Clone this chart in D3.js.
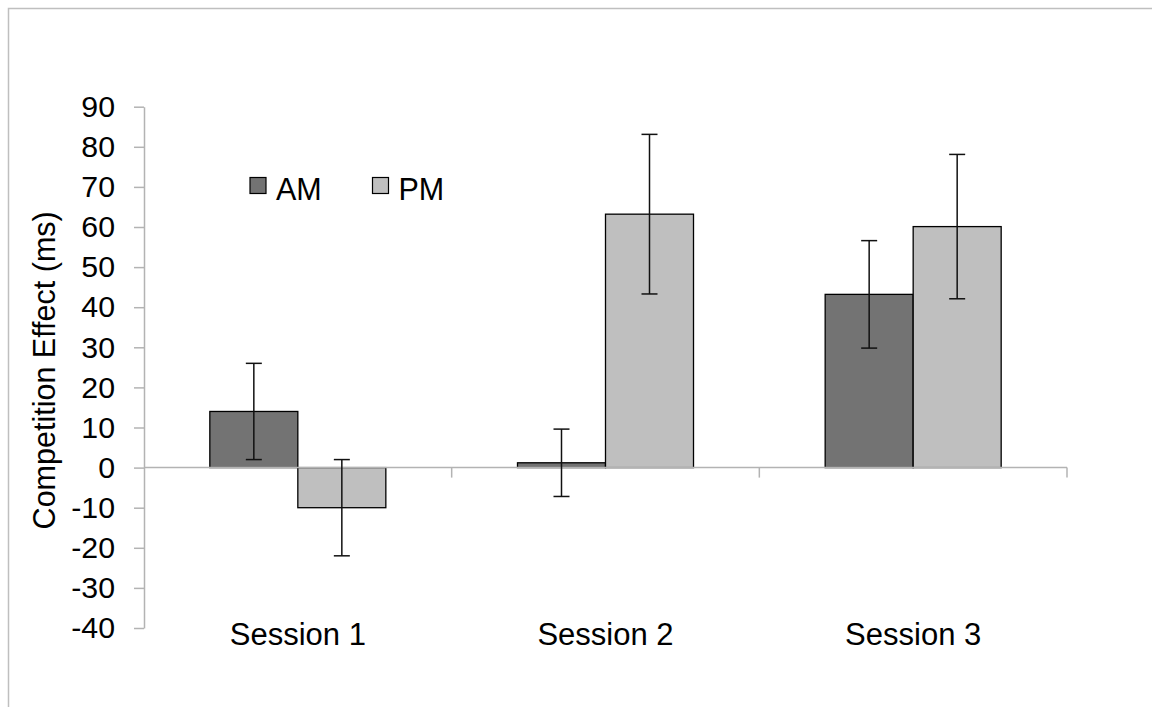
<!DOCTYPE html>
<html>
<head>
<meta charset="utf-8">
<script src="https://cdn.jsdelivr.net/npm/d3@7/dist/d3.min.js"></script>
<style>
  body { margin: 0; background: #fff; }
  text { font-family: "Liberation Sans", Arial, sans-serif; fill: #000; }
</style>
</head>
<body>
<div id="chart"></div>
<script>
// Data
var sessions = ["Session 1", "Session 2", "Session 3"];
var groups = ["AM", "PM"];
var am_values = [14, 1.2, 43.2];
var am_errors = [12, 8.4, 13.4];
var pm_values = [-10, 63.2, 60.1];
var pm_errors = [12, 19.9, 18];
var y_ticks = [-40, -30, -20, -10, 0, 10, 20, 30, 40, 50, 60, 70, 80, 90];

var width = 1152, height = 707;
var colours = { AM: "#737373", PM: "#bfbfbf" };

var svg = d3.select("#chart").append("svg")
    .attr("width", width)
    .attr("height", height);

// chart area border
svg.append("rect")
    .attr("x", 8.5).attr("y", 8.5)
    .attr("width", width + 20).attr("height", height + 20)
    .attr("fill", "none")
    .attr("stroke", "#bfbfbf")
    .attr("stroke-width", 1.5);

var plot_left = 144, plot_right = 1067, plot_top = 106.7, plot_bottom = 628;

var y = d3.scaleLinear().domain([-40, 90]).range([plot_bottom, plot_top]);
var x0 = d3.scaleBand().domain(sessions).range([plot_left, plot_right]).padding(0);
var x1 = d3.scaleBand().domain(groups).range([0, x0.bandwidth()])
    .paddingInner(0).paddingOuter(0.748);

// rows: one per session/group pair
var rows = [];
sessions.forEach(function(s, i) {
    rows.push({ session: s, group: "AM", value: am_values[i], err: am_errors[i] });
    rows.push({ session: s, group: "PM", value: pm_values[i], err: pm_errors[i] });
});

// y axis (plain hyphen for negatives, as in the original)
var yAxis = svg.append("g")
    .attr("transform", "translate(" + plot_left + ",0)")
    .call(d3.axisLeft(y)
        .tickValues(y_ticks)
        .tickFormat(function(d) { return String(d); })
        .tickSize(10).tickSizeOuter(0).tickPadding(19));
yAxis.select(".domain").attr("stroke", "#b3b3b3").attr("stroke-width", 1.5);
yAxis.selectAll(".tick line").attr("stroke", "#b3b3b3").attr("stroke-width", 1.5);
yAxis.selectAll(".tick text")
    .attr("font-size", 30.3)
    .attr("font-family", "Liberation Sans, Arial, sans-serif")
    .attr("fill", "#000");

// bars
svg.selectAll(".bar")
    .data(rows)
    .enter().append("rect")
    .attr("class", "bar")
    .attr("x", function(d) { return x0(d.session) + x1(d.group); })
    .attr("width", x1.bandwidth())
    .attr("y", function(d) { return y(Math.max(0, d.value)); })
    .attr("height", function(d) { return Math.abs(y(d.value) - y(0)); })
    .attr("fill", function(d) { return colours[d.group]; })
    .attr("stroke", "#000")
    .attr("stroke-width", 1.3);

// x axis line at zero with ticks at category boundaries
var xg = svg.append("g").attr("transform", "translate(0," + y(0) + ")");
xg.append("line")
    .attr("x1", plot_left).attr("x2", plot_right)
    .attr("stroke", "#b3b3b3").attr("stroke-width", 1.5);
xg.selectAll(".xtick")
    .data(sessions)
    .enter().append("line")
    .attr("class", "xtick")
    .attr("x1", function(d) { return x0(d) + x0.bandwidth(); })
    .attr("x2", function(d) { return x0(d) + x0.bandwidth(); })
    .attr("y1", 0).attr("y2", 10)
    .attr("stroke", "#b3b3b3").attr("stroke-width", 1.5);

// category labels at the bottom
svg.selectAll(".xlabel")
    .data(sessions)
    .enter().append("text")
    .attr("class", "xlabel")
    .attr("x", function(d) { return x0(d) + x0.bandwidth() / 2; })
    .attr("y", 645)
    .attr("text-anchor", "middle")
    .attr("font-size", 31)
    .text(function(d) { return d; });

// error bars
var eb = svg.selectAll(".err")
    .data(rows)
    .enter().append("g")
    .attr("class", "err")
    .attr("stroke", "#111")
    .attr("stroke-width", 1.5);
eb.append("line")
    .attr("x1", function(d) { return x0(d.session) + x1(d.group) + x1.bandwidth() / 2; })
    .attr("x2", function(d) { return x0(d.session) + x1(d.group) + x1.bandwidth() / 2; })
    .attr("y1", function(d) { return y(d.value + d.err); })
    .attr("y2", function(d) { return y(d.value - d.err); });
[1, -1].forEach(function(sign) {
    eb.append("line")
        .attr("x1", function(d) { return x0(d.session) + x1(d.group) + x1.bandwidth() / 2 - 8; })
        .attr("x2", function(d) { return x0(d.session) + x1(d.group) + x1.bandwidth() / 2 + 8; })
        .attr("y1", function(d) { return y(d.value + sign * d.err); })
        .attr("y2", function(d) { return y(d.value + sign * d.err); });
});

// y axis title
svg.append("text")
    .attr("transform", "translate(55," + ((plot_top + plot_bottom) / 2 + 3) + ") rotate(-90)")
    .attr("text-anchor", "middle")
    .attr("font-size", 30.5)
    .text("Competition Effect (ms)");

// legend
var legend = svg.selectAll(".legend")
    .data(groups)
    .enter().append("g")
    .attr("class", "legend")
    .attr("transform", function(d, i) { return "translate(" + (250 + i * 122.5) + ",177.5)"; });
legend.append("rect")
    .attr("width", 16).attr("height", 16)
    .attr("fill", function(d) { return colours[d]; })
    .attr("stroke", "#000")
    .attr("stroke-width", 1.2);
legend.append("text")
    .attr("x", 26)
    .attr("y", 22)
    .attr("font-size", 30.5)
    .text(function(d) { return d; });
</script>
</body>
</html>
